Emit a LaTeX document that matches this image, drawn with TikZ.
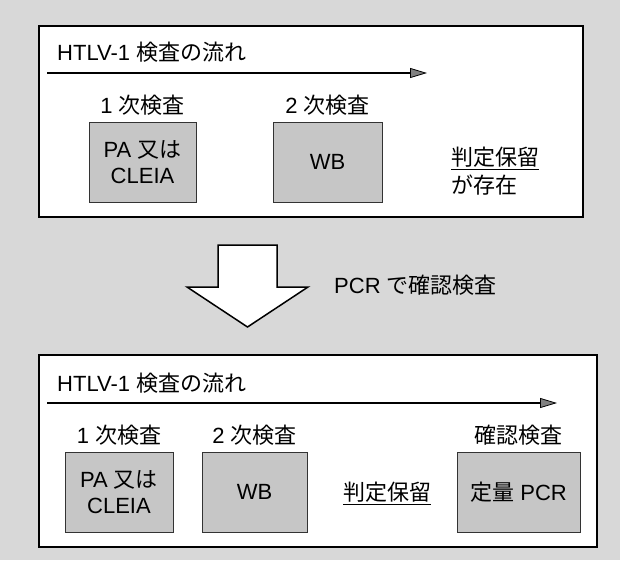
\documentclass[tikz,border=0pt]{standalone}
\usepackage{fontspec}
\setmainfont{Liberation Sans}
\newfontfamily\jp{Noto Sans CJK JP}
\usetikzlibrary{arrows.meta}
\definecolor{bg}{HTML}{D8D8D8}
\definecolor{boxfill}{HTML}{C6C6C6}
\begin{document}
\begin{tikzpicture}[x=1pt,y=-1pt,
  every node/.style={font=\fontsize{22}{26}\selectfont, inner sep=0pt},
  frame/.style={draw=black, line width=1.5pt, fill=white},
  testbox/.style={draw=black!80, line width=1pt, fill=boxfill, minimum height=80pt, align=center},
  flow/.style={line width=2pt, -{Triangle[length=17pt,width=10pt,line width=0.8pt,fill=gray]}},
  uline/.style={line width=1.2pt}]
\useasboundingbox (0,0) rectangle (620,560);
\fill[bg] (0,0) rectangle (620,560);

% ---- top panel ----
\node[frame, minimum width=544pt, minimum height=191pt] (topframe) at (311,121.5) {};
\node[anchor=west] (toptitle) at (57,52) {HTLV-1 {\jp 検査の流れ}};
\coordinate (tflowA) at (47,73);
\coordinate (tflowB) at (427,73);
\draw[flow] (tflowA) -- (tflowB);
\node[testbox, minimum width=107pt] (tbox1) at (142.5,162) {PA {\jp 又は}\\CLEIA};
\node[testbox, minimum width=109pt] (tbox2) at (327.5,162) {WB};
\node (tlab1) at (142.5,105) {1 {\jp 次検査}};
\node (tlab2) at (327.5,105) {2 {\jp 次検査}};
\node[anchor=west] (thold) at (451,157) {\jp 判定保留};
\node[anchor=west] (texist) at (451,185) {\jp が存在};
\draw[uline] ([yshift=-2pt]thold.south west) -- ([yshift=-2pt]thold.south east);

% ---- big arrow ----
\draw[line width=1.5pt, fill=white, line join=miter]
  (218,245) -- (277,245) -- (277,287) -- (308,287) -- (247.5,327) -- (187,287) -- (218,287) -- cycle;
\node[anchor=west] (pcrnote) at (334,285) {PCR {\jp で確認検査}};

% ---- bottom panel ----
\node[frame, minimum width=558pt, minimum height=192pt] (botframe) at (318,451) {};
\node[anchor=west] (bottitle) at (57,383) {HTLV-1 {\jp 検査の流れ}};
\coordinate (bflowA) at (47,403);
\coordinate (bflowB) at (557,403);
\draw[flow] (bflowA) -- (bflowB);
\node[testbox, minimum width=108pt] (bbox1) at (119,492) {PA {\jp 又は}\\CLEIA};
\node[testbox, minimum width=105pt] (bbox2) at (254.5,492) {WB};
\node[testbox, minimum width=123pt] (bbox3) at (518.5,492) {{\jp 定量} PCR};
\node (blab1) at (119,435) {1 {\jp 次検査}};
\node (blab2) at (254.5,435) {2 {\jp 次検査}};
\node (blab3) at (518.5,435) {\jp 確認検査};
\node[anchor=west] (bhold) at (343,492) {\jp 判定保留};
\draw[uline] ([yshift=-2pt]bhold.south west) -- ([yshift=-2pt]bhold.south east);
\end{tikzpicture}
\end{document}
